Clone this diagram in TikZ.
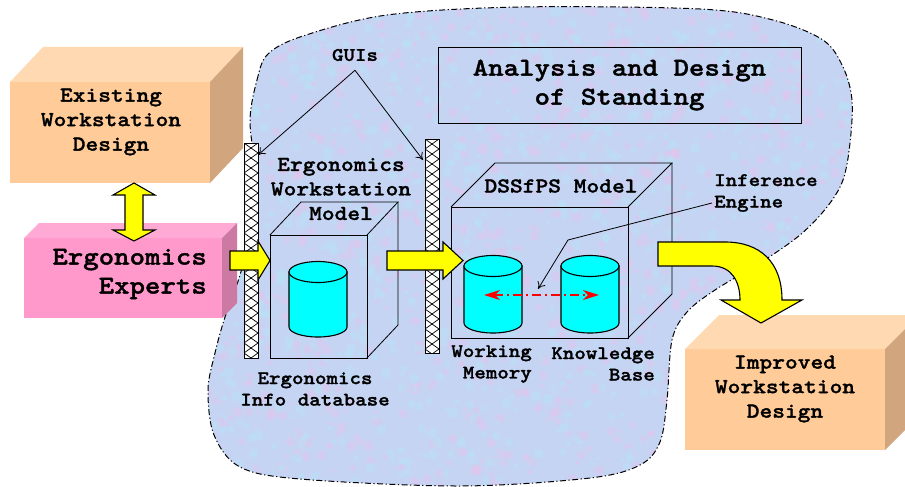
\documentclass[tikz,border=0pt]{standalone}
\usepackage{fontspec}
\newfontfamily\cour{lmmonolt10-bold.otf}[FakeStretch=1.14,FakeBold=1.3]
\usetikzlibrary{arrows.meta}
\definecolor{peachF}{RGB}{255,204,153}
\definecolor{peachT}{RGB}{255,217,178}
\definecolor{peachS}{RGB}{209,166,126}
\definecolor{pinkF}{RGB}{255,153,204}
\definecolor{pinkT}{RGB}{255,170,212}
\definecolor{pinkS}{RGB}{204,122,163}
\definecolor{blobC}{RGB}{198,212,243}
\definecolor{blobP}{RGB}{228,196,236}
\definecolor{blobQ}{RGB}{182,228,246}
\definecolor{cylC}{RGB}{0,255,255}
\definecolor{yel}{RGB}{255,255,0}
\newcommand\fS{\cour\fontsize{19.2}{21.5}\selectfont}
\newcommand\fM{\cour\fontsize{21.3}{24.5}\selectfont}
\newcommand\fL{\cour\fontsize{25.8}{29}\selectfont}
\tikzset{
  face/.style={draw=none, inner sep=0pt, outer sep=0pt},
  wire/.style={draw, line width=0.8pt, inner sep=0pt, outer sep=0pt},
  lbl/.style={inner sep=0pt, align=center},
  yarrow/.style={fill=yel, draw=black, line width=1.1pt, line join=miter},
  thinarrow/.style={line width=0.8pt, -{To[length=7pt,width=9pt]}},
  guibar/.style={draw, line width=1pt, fill=white, inner sep=0pt, outer sep=0pt,
    minimum width=14pt,
    path picture={
      \foreach \k in {0,...,22} {
        \draw[line width=0.7pt] ([yshift=-\k*10pt]path picture bounding box.north west) -- ++(14pt,-10pt);
        \draw[line width=0.7pt] ([yshift=-\k*10pt]path picture bounding box.north east) -- ++(-14pt,-10pt);
      }}},
  cyl/.pic={
    \draw[fill=cylC, line width=1.1pt] (-29,0) -- (-29,\cylh) arc[start angle=180, end angle=0, x radius=29, y radius=10] -- (29,0) -- cycle;
    \draw[fill=cylC, line width=1.1pt] (0,0) ellipse [x radius=29, y radius=10.5];
  }
}
\def\blobpath{plot[smooth cycle, tension=0.55] coordinates {
  (250,120) (257,80) (268,54) (303,36) (387,15) (520,7) (700,9) (773,20) (823,40)
  (843,67) (852,100) (850,143) (843,180) (827,207) (800,235) (760,263) (715,290)
  (687,312) (672,340) (667,400) (660,442) (640,465) (590,478) (460,486) (300,479)
  (240,467) (214,435) (208,390) (215,353) (225,317) (240,275) (254,220) (255,170)}}
\begin{document}
\begin{tikzpicture}[x=1pt,y=-1pt]
\useasboundingbox (0,0) rectangle (905,487);

% blob with texture
\fill[blobC] \blobpath;
\begin{scope}
  \clip \blobpath;
  \pgfmathsetseed{4242}
  \foreach \i in {1,...,900} {
    \pgfmathsetmacro\px{205+rnd*655}
    \pgfmathsetmacro\py{5+rnd*485}
    \pgfmathsetmacro\pr{2+rnd*3.5}
    \fill[blobP, opacity=0.4] (\px,\py) circle[radius=\pr];
  }
  \foreach \i in {1,...,900} {
    \pgfmathsetmacro\px{205+rnd*655}
    \pgfmathsetmacro\py{5+rnd*485}
    \pgfmathsetmacro\pr{2+rnd*3.5}
    \fill[blobQ, opacity=0.4] (\px,\py) circle[radius=\pr];
  }
\end{scope}
\draw[line width=1pt, dash pattern=on 6pt off 2.5pt on 1.2pt off 2.5pt] \blobpath;

% title
\node[draw, line width=0.8pt, minimum width=363pt, minimum height=76pt, inner sep=0pt,
  font=\fL, align=center] (title) at (619.5,85) {Analysis and Design\\of Standing};

% GUIs label
\node[lbl, font=\fS] (gui) at (355,55) {GUIs};

% Ergonomics workstation model wireframe
\node[wire, minimum width=97pt, minimum height=123pt, anchor=north west] (ewm) at (270,235) {};
\draw[line width=0.8pt] (ewm.north west) -- ++(31,-33) -- ++(97,0) -- (ewm.north east);
\draw[line width=0.8pt] (ewm.north east) ++(31,-33) -- ++(0,123) -- (ewm.south east);
\node[lbl, font=\fM] (ewmT) at (341,189) {Ergonomics\\Workstation\\Model};
\def\cylh{55}
\pic (c1) at (318,272) {cyl};
\node[lbl, font=\fS] (eidb) at (315,389) {Ergonomics\\Info database};

% DSSfPS model wireframe
\node[wire, minimum width=177pt, minimum height=131pt, anchor=north west] (dss) at (451,207) {};
\draw[line width=0.8pt] (dss.north west) -- ++(44,-44) -- ++(177,0) -- (dss.north east);
\draw[line width=0.8pt] (dss.north east) ++(44,-44) -- ++(0,131) -- (dss.south east);
\node[lbl, font=\fM] (dssT) at (561,186) {DSSfPS Model};
\def\cylh{57}
\pic (c2) at (493,266) {cyl};
\pic (c3) at (590,266) {cyl};
\coordinate (ra) at (484,295);
\coordinate (rb) at (599,295);
\draw[red, line width=1.2pt, dash pattern=on 9pt off 4pt on 2pt off 4pt,
  {Stealth[length=16pt,width=10pt,inset=5pt]}-{Stealth[length=16pt,width=10pt,inset=5pt]}] (ra) -- (rb);
\node[lbl, font=\fS, align=right, anchor=east] (wm) at (532,364) {Working\\Memory};
\node[lbl, font=\fS, align=right, anchor=east] (kb) at (655,364) {Knowledge\\Base};

% inference engine
\node[lbl, font=\fS, align=left, anchor=west] (ie) at (714,193) {Inference\\Engine};
\coordinate (iebend) at (568,240);
\coordinate (ietip) at (538,289);
\draw[thinarrow] ([xshift=-2pt,yshift=-10pt]ie.west) -- (iebend) -- (ietip);

% GUI bars
\node[guibar, minimum height=215pt, anchor=north west] (bar1) at (244,143) {};
\node[guibar, minimum height=214pt, anchor=north west] (bar2) at (425,139) {};
\draw[thinarrow] ([yshift=-9pt]gui.south) -- ([yshift=-12pt]bar1.north east);
\draw[thinarrow] ([yshift=-9pt]gui.south) -- ([xshift=-2pt,yshift=-21pt]bar2.north west);

% Existing workstation design box
\node[face, fill=peachF, minimum width=200pt, minimum height=101pt, anchor=north west] (exF) at (10,82) {};
\fill[peachT] (exF.north west) -- ++(33,-35) -- ++(200,0) -- (exF.north east) -- cycle;
\fill[peachS] (exF.north east) -- ++(33,-35) -- ++(0,101) -- (exF.south east) -- cycle;
\node[lbl, font=\fM] (exT) at (111,122) {Existing\\Workstation\\Design};

% Ergonomics experts box
\node[face, fill=pinkF, minimum width=198pt, minimum height=80pt, anchor=north west] (pkF) at (24,238) {};
\fill[pinkT] (pkF.north west) -- ++(15,-15) -- ++(198,0) -- (pkF.north east) -- cycle;
\fill[pinkS] (pkF.north east) -- ++(15,-15) -- ++(0,80) -- (pkF.south east) -- cycle;
\node[lbl, font=\fL, align=right, anchor=east] (pkT) at (207,274) {Ergonomics\\Experts};

% Improved workstation design box
\node[face, fill=peachF, minimum width=200pt, minimum height=101pt, anchor=north west] (imF) at (685,349) {};
\fill[peachT] (imF.north west) -- ++(34,-34) -- ++(200,0) -- (imF.north east) -- cycle;
\fill[peachS] (imF.north east) -- ++(34,-34) -- ++(0,101) -- (imF.south east) -- cycle;
\node[lbl, font=\fM] (imT) at (785,389) {Improved\\Workstation\\Design};

% yellow arrows
\draw[yarrow] (134,183) -- (155,195) -- (143,195) -- (143,230) -- (155,230) -- (134,241)
  -- (113,230) -- (125,230) -- (125,195) -- (113,195) -- cycle;
\draw[yarrow] (230,251) -- (258,251) -- (258,241) -- (270,260.5) -- (258,280) -- (258,270) -- (230,270) -- cycle;
\draw[yarrow] (387,251) -- (443,251) -- (443,242) -- (463,260.5) -- (443,279) -- (443,270) -- (387,270) -- cycle;
\draw[yarrow] (658,242) -- (725,242) .. controls (760,242) and (782,262) .. (782,300)
  -- (802,300) -- (761,323) -- (721,300) -- (740,300)
  .. controls (740,282) and (732,266) .. (712,266) -- (658,266) -- cycle;
\end{tikzpicture}
\end{document}
